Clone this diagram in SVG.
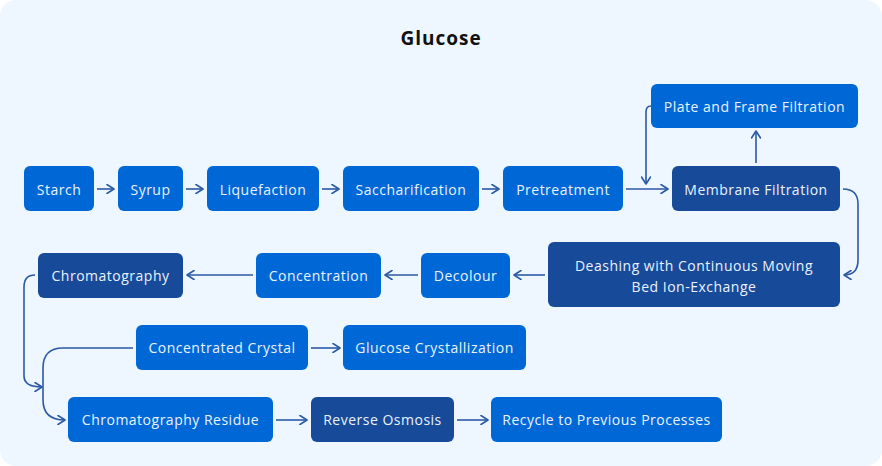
<svg xmlns="http://www.w3.org/2000/svg" width="882" height="466" viewBox="0 0 882 466">
<defs>
<marker id="ah" viewBox="0 0 10 10" refX="9" refY="5" markerWidth="10" markerHeight="10" markerUnits="userSpaceOnUse" orient="auto">
<path d="M2,0.5 L9,5 L2,9.5" fill="none" stroke="#2B58A4" stroke-width="1.6" stroke-linecap="round" stroke-linejoin="round"/>
</marker>
</defs>
<style>
.n{fill:#0068D6}
.d{fill:#174A99}
text{font-family:"Open Sans","Liberation Sans",sans-serif;font-size:14px;letter-spacing:0.5px;fill:#EAF2FF;text-anchor:middle;dominant-baseline:central}
.t{font-size:19px;font-weight:bold;letter-spacing:1px;fill:#111111}
.c path{fill:none;stroke:#2B58A4;stroke-width:1.6;marker-end:url(#ah)}
</style>
<rect x="0" y="0" width="882" height="466" rx="16" fill="#EEF7FF"/>
<text class="t" x="441" y="38">Glucose</text>
<g class="c">
<path d="M97,189 H114"/>
<path d="M186,189 H203"/>
<path d="M322,189 H339"/>
<path d="M482,189 H499"/>
<path d="M626,189 H668"/>
<path d="M651,106 Q646,106 646,112 V184"/>
<path d="M756,163 V131"/>
<path d="M843,189 Q858,189 858,204 V260 Q858,275 844,275"/>
<path d="M545,275 H514"/>
<path d="M418,275 H385"/>
<path d="M253,275 H187"/>
<path d="M35,275 Q24,275 24,287 V376 Q24,387 42,387"/>
<path d="M133,348 H63 Q43,348 43,368 V400 Q43,420 65,420"/>
<path d="M311,348 H340"/>
<path d="M276,420 H307"/>
<path d="M457,420 H488"/>
</g>
<g id="starch"><rect class="n" x="24" y="166" width="70" height="45" rx="6"/><text x="59" y="189">Starch</text></g>
<g id="syrup"><rect class="n" x="118" y="166" width="65" height="45" rx="6"/><text x="150.5" y="189">Syrup</text></g>
<g id="liquefaction"><rect class="n" x="207" y="166" width="112" height="45" rx="6"/><text x="263" y="189">Liquefaction</text></g>
<g id="saccharification"><rect class="n" x="343" y="166" width="136" height="45" rx="6"/><text x="411" y="189">Saccharification</text></g>
<g id="pretreatment"><rect class="n" x="503" y="166" width="120" height="45" rx="6"/><text x="563" y="189">Pretreatment</text></g>
<g id="membrane"><rect class="d" x="672" y="166" width="168" height="45" rx="6"/><text x="756" y="189">Membrane Filtration</text></g>
<g id="plate"><rect class="n" x="651" y="84" width="207" height="44" rx="6"/><text x="754.5" y="106">Plate and Frame Filtration</text></g>
<g id="deashing"><rect class="d" x="548" y="242" width="292" height="65" rx="6"/><text x="694" y="265">Deashing with Continuous Moving</text><text x="694" y="286">Bed Ion-Exchange</text></g>
<g id="decolour"><rect class="n" x="421" y="253" width="89" height="45" rx="6"/><text x="465.5" y="275.5">Decolour</text></g>
<g id="concentration"><rect class="n" x="256" y="253" width="125" height="45" rx="6"/><text x="318.5" y="275.5">Concentration</text></g>
<g id="chromatography"><rect class="d" x="38" y="253" width="145" height="45" rx="6"/><text x="110.5" y="275.5">Chromatography</text></g>
<g id="concentrated-crystal"><rect class="n" x="136" y="325" width="172" height="45" rx="6"/><text x="222" y="347.5">Concentrated Crystal</text></g>
<g id="glucose-crystallization"><rect class="n" x="343" y="325" width="183" height="45" rx="6"/><text x="434.5" y="347.5">Glucose Crystallization</text></g>
<g id="residue"><rect class="n" x="68" y="397" width="205" height="45" rx="6"/><text x="170.5" y="419.5">Chromatography Residue</text></g>
<g id="reverse-osmosis"><rect class="d" x="311" y="397" width="143" height="45" rx="6"/><text x="382.5" y="419.5">Reverse Osmosis</text></g>
<g id="recycle"><rect class="n" x="491" y="397" width="231" height="45" rx="6"/><text x="606.5" y="419.5">Recycle to Previous Processes</text></g>
</svg>
